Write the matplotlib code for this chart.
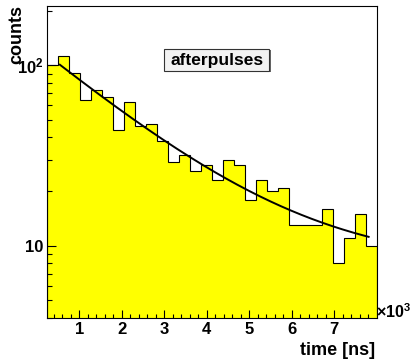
import numpy as np
import matplotlib
matplotlib.use("Agg")
import matplotlib.pyplot as plt
from matplotlib.patches import Rectangle
from matplotlib.ticker import FixedLocator, LogLocator, NullFormatter, FixedFormatter

plt.rcParams['font.family'] = ['Liberation Sans', 'DejaVu Sans']
plt.rcParams['font.weight'] = 'bold'
plt.rcParams['mathtext.fontset'] = 'custom'
plt.rcParams['mathtext.rm'] = 'Liberation Sans:bold'
plt.rcParams['mathtext.bf'] = 'Liberation Sans:bold'
plt.rcParams['mathtext.it'] = 'Liberation Sans:bold'

# ---- data ----
x_min_ns = 250.0
x_max_ns = 8000.0
n_bins = 30
counts = [101, 112, 91, 64, 73, 67, 44, 63, 46, 47,
          38, 29, 32, 26, 28, 23, 30, 28, 18, 23,
          20, 21, 13, 13, 13, 16, 8, 11, 15, 10]
# exponential + constant fit: A*exp(-t/tau) + C
fit_A = 119.1
fit_tau_ns = 2209.0
fit_C = 7.73
fit_range_ns = [545.0, 7810.0]
x_tick_values = [1000, 2000, 3000, 4000, 5000, 6000, 7000]
x_tick_labels = ['1', '2', '3', '4', '5', '6', '7']
y_tick_values = [10, 100]
y_tick_labels = ['10', r'$10^{2}$']
y_limits = [3.99, 214.6]

W, H = 413, 360
fig = plt.figure(figsize=(W / 100, H / 100), dpi=100)
ax = fig.add_axes([47.3 / W, 1 - 317.7 / H, (376.7 - 47.3) / W, (317.7 - 5.5) / H])

edges = np.linspace(x_min_ns, x_max_ns, n_bins + 1)
ax.stairs(counts, edges, baseline=1.0, fill=True, color='#ffff00', zorder=1)
ax.stairs(counts, edges, baseline=1.0, fill=False, color='black', lw=0.8, zorder=2)

tf = np.linspace(fit_range_ns[0], fit_range_ns[1], 300)
ax.plot(tf, fit_A * np.exp(-tf / fit_tau_ns) + fit_C, color='black', lw=1.4, zorder=3)

ax.set_yscale('log')
ax.set_xlim(x_min_ns, x_max_ns)
ax.set_ylim(*y_limits)

ax.xaxis.set_major_locator(FixedLocator(x_tick_values))
ax.xaxis.set_major_formatter(FixedFormatter(x_tick_labels))
ax.xaxis.set_minor_locator(FixedLocator(np.arange(400, 8000, 200)))
ax.yaxis.set_major_locator(FixedLocator(y_tick_values))
ax.yaxis.set_major_formatter(FixedFormatter(y_tick_labels))
ax.yaxis.set_minor_locator(LogLocator(base=10, subs=range(2, 10)))
ax.yaxis.set_minor_formatter(NullFormatter())

ax.tick_params(axis='x', which='major', direction='in', length=5.8, width=0.8,
               labelsize=12, pad=3.0, top=False)
ax.tick_params(axis='x', which='minor', direction='in', length=2.9, width=0.8, top=False)
ax.tick_params(axis='y', which='major', direction='in', length=6.5, width=0.8,
               labelsize=12, pad=2.9, right=False)
ax.tick_params(axis='y', which='minor', direction='in', length=3.6, width=0.8, right=False)
for lab in ax.get_xticklabels() + ax.get_yticklabels():
    lab.set_fontweight('bold')
for s in ax.spines.values():
    s.set_linewidth(0.8)
    s.set_color('black')

fig.text(17.0 / W, 1 - 5 / H, 'counts', rotation=90, ha='center', va='top',
         fontsize=13, fontweight='bold')
fig.text(375 / W, 1 - 355 / H, 'time [ns]', ha='right', va='baseline',
         fontsize=13, fontweight='bold')
fig.text(376 / W, 1 - 317.7 / H, r'$\times$' + r'$10^{3}$', ha='left', va='baseline',
         fontsize=11.5)

# title box
bx0, bx1, by0, by1 = 164.3, 269.3, 49.0, 70.7
fig.patches.append(Rectangle(((bx0 + 1.2) / W, 1 - (by1 + 1.2) / H), (bx1 - bx0) / W,
                             (by1 - by0) / H, transform=fig.transFigure,
                             facecolor='#666666', edgecolor='none', zorder=5))
fig.patches.append(Rectangle((bx0 / W, 1 - by1 / H), (bx1 - bx0) / W, (by1 - by0) / H,
                             transform=fig.transFigure, facecolor='#f2f2f2',
                             edgecolor='#333333', lw=0.8, zorder=6))
fig.text((bx0 + bx1) / 2 / W, 1 - 60.5 / H, 'afterpulses', ha='center', va='center',
         fontsize=12.5, fontweight='bold', zorder=7)

fig.savefig('out.png', dpi=100)
